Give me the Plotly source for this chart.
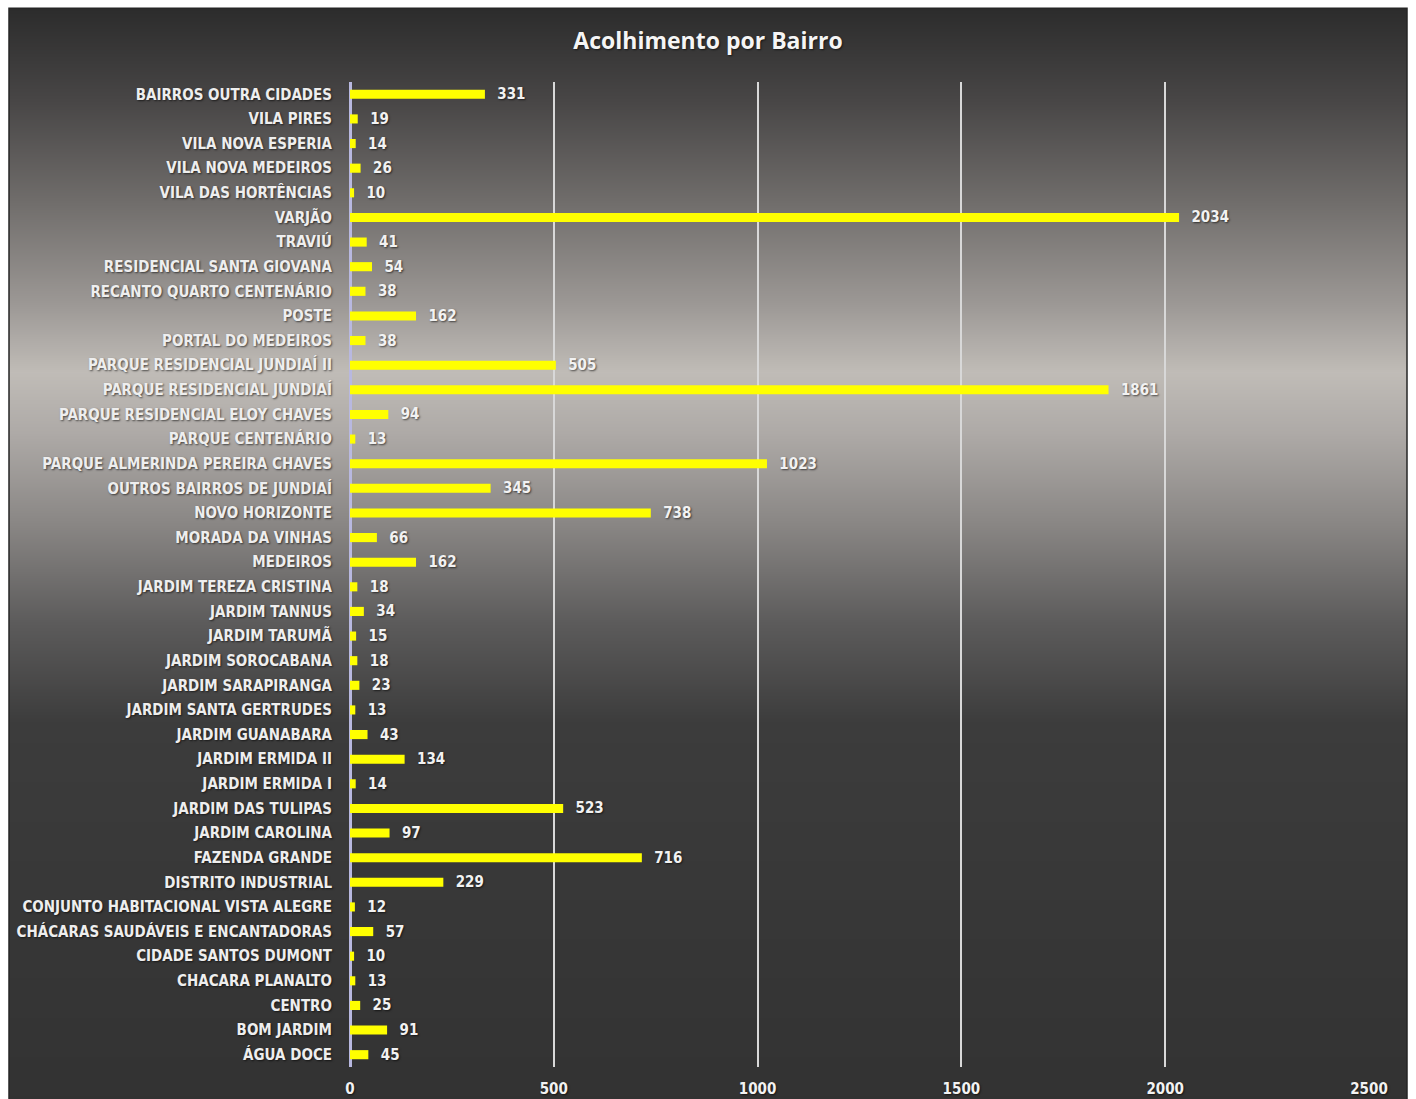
import base64
import struct
import zlib

import plotly.graph_objects as go

# ---------------- data ----------------
bairros = [
    "BAIRROS OUTRA CIDADES", "VILA PIRES", "VILA NOVA ESPERIA", "VILA NOVA MEDEIROS",
    "VILA DAS HORTÊNCIAS", "VARJÃO", "TRAVIÚ", "RESIDENCIAL SANTA GIOVANA",
    "RECANTO QUARTO CENTENÁRIO", "POSTE", "PORTAL DO MEDEIROS", "PARQUE RESIDENCIAL JUNDIAÍ II",
    "PARQUE RESIDENCIAL JUNDIAÍ", "PARQUE RESIDENCIAL ELOY CHAVES", "PARQUE CENTENÁRIO",
    "PARQUE ALMERINDA PEREIRA CHAVES", "OUTROS BAIRROS DE JUNDIAÍ", "NOVO HORIZONTE",
    "MORADA DA VINHAS", "MEDEIROS", "JARDIM TEREZA CRISTINA", "JARDIM TANNUS",
    "JARDIM TARUMÃ", "JARDIM SOROCABANA", "JARDIM SARAPIRANGA", "JARDIM SANTA GERTRUDES",
    "JARDIM GUANABARA", "JARDIM ERMIDA II", "JARDIM ERMIDA I", "JARDIM DAS TULIPAS",
    "JARDIM CAROLINA", "FAZENDA GRANDE", "DISTRITO INDUSTRIAL",
    "CONJUNTO HABITACIONAL VISTA ALEGRE", "CHÁCARAS SAUDÁVEIS E ENCANTADORAS",
    "CIDADE SANTOS DUMONT", "CHACARA PLANALTO", "CENTRO", "BOM JARDIM", "ÁGUA DOCE",
]
acolhimentos = [
    331, 19, 14, 26, 10, 2034, 41, 54, 38, 162, 38, 505, 1861, 94, 13, 1023, 345, 738,
    66, 162, 18, 34, 15, 18, 23, 13, 43, 134, 14, 523, 97, 716, 229, 12, 57, 10, 13,
    25, 91, 45,
]
x_ticks = [0, 500, 1000, 1500, 2000, 2500]
titulo = "Acolhimento por Bairro"

# ---------------- layout geometry (page margin removed below) ----------------
W, H = 1416, 1110
ML, MR, MT, MB = 350, 47, 82, 38
PW, PH = W - ML - MR, H - MT - MB
VS = 0.99  # observed vertical photo scale


def px_x(p):
    return (p - ML) / PW


def px_y(p):
    return (H - MB - p) / PH


# background vertical gradient (styling only), in photographed-pixel rows
stops = [
    (8, (44, 44, 44)), (100, (72, 70, 70)), (200, (112, 109, 107)),
    (300, (155, 151, 148)), (370, (192, 188, 183)), (430, (174, 170, 167)),
    (520, (138, 135, 133)), (620, (92, 91, 91)), (720, (60, 60, 60)),
    (1110, (50, 50, 50)),
]


def grad(y):
    for (y0, c0), (y1, c1) in zip(stops[:-1], stops[1:]):
        if y0 <= y <= y1:
            t = (y - y0) / (y1 - y0)
            return tuple(round(a + (b - a) * t) for a, b in zip(c0, c1))
    return stops[-1][1]


FX0, FX1, FY0, FY1 = 9, 1407, 8, 1110
rows = FY1 - FY0


def png_gradient(n):
    raw = b""
    for i in range(n):
        r, g, b = grad((FY0 + i + 0.5) * VS)
        raw += b"\x00" + bytes((r, g, b)) * 2

    def chunk(tag, data):
        c = struct.pack(">I", len(data)) + tag + data
        return c + struct.pack(">I", zlib.crc32(tag + data) & 0xFFFFFFFF)

    png = b"\x89PNG\r\n\x1a\n"
    png += chunk(b"IHDR", struct.pack(">IIBBBBB", 2, n, 8, 2, 0, 0, 0))
    png += chunk(b"IDAT", zlib.compress(raw))
    png += chunk(b"IEND", b"")
    return "data:image/png;base64," + base64.b64encode(png).decode()


bg_image = dict(
    source=png_gradient(rows), xref="paper", yref="paper",
    x=px_x(FX0), y=px_y(FY0),
    sizex=(FX1 - FX0) / PW, sizey=rows / PH,
    xanchor="left", yanchor="top", sizing="stretch", layer="below",
)

frame = dict(
    type="rect", xref="paper", yref="paper",
    x0=px_x(FX0), x1=px_x(FX1), y0=px_y(FY1), y1=px_y(FY0),
    fillcolor="rgba(0,0,0,0)", line=dict(width=1.5, color="#262626"), layer="below",
)

FONT = "Liberation Sans Narrow, DejaVu Sans Condensed, Arial Narrow, sans-serif"
SHADOW = "1px 1px 2px rgba(0,0,0,0.6)"

fig = go.Figure(go.Bar(
    x=acolhimentos, y=bairros, orientation="h",
    marker=dict(color="#ffff00", line=dict(width=0)),
    text=acolhimentos, texttemplate="  %{text}", textposition="outside",
    constraintext="none",
    textfont=dict(family=FONT, size=15, color="#f2f2f2", weight="bold", shadow=SHADOW),
    cliponaxis=False,
))

fig.update_layout(
    width=W, height=H,
    margin=dict(l=ML, r=MR, t=MT, b=MB, pad=0),
    paper_bgcolor="white", plot_bgcolor="rgba(0,0,0,0)",
    bargap=0.63, showlegend=False,
    images=[bg_image],
    shapes=[frame],
    title=dict(text=titulo, x=0.5, xanchor="center", y=1 - 40.5 / H, yanchor="middle",
               yref="container",
               font=dict(family="Open Sans, Liberation Sans, sans-serif", size=23,
                         color="#f5f5f5", weight="bold", shadow=SHADOW)),
)
fig.update_xaxes(
    range=[0, 2500], tickvals=x_ticks, showgrid=True, gridcolor="#d8d8d8", gridwidth=1.6,
    zeroline=True, zerolinecolor="#b8b8e0", zerolinewidth=2.5, showline=False,
    ticks="outside", ticklen=8, tickcolor="rgba(0,0,0,0)",
    tickfont=dict(family=FONT, size=15, color="#f2f2f2", weight="bold", shadow=SHADOW),
    fixedrange=True,
)
fig.update_yaxes(
    autorange="reversed", showgrid=False, showline=False, zeroline=False,
    ticks="outside", ticklen=14, tickcolor="rgba(0,0,0,0)",
    tickfont=dict(family=FONT, size=15, color="#eeeeee", weight="bold", shadow=SHADOW),
    fixedrange=True,
)

fig.write_html(
    "out.html",
    config={"displayModeBar": False},
    post_script="document.body.style.margin='0';document.body.style.overflow='hidden';",
)
